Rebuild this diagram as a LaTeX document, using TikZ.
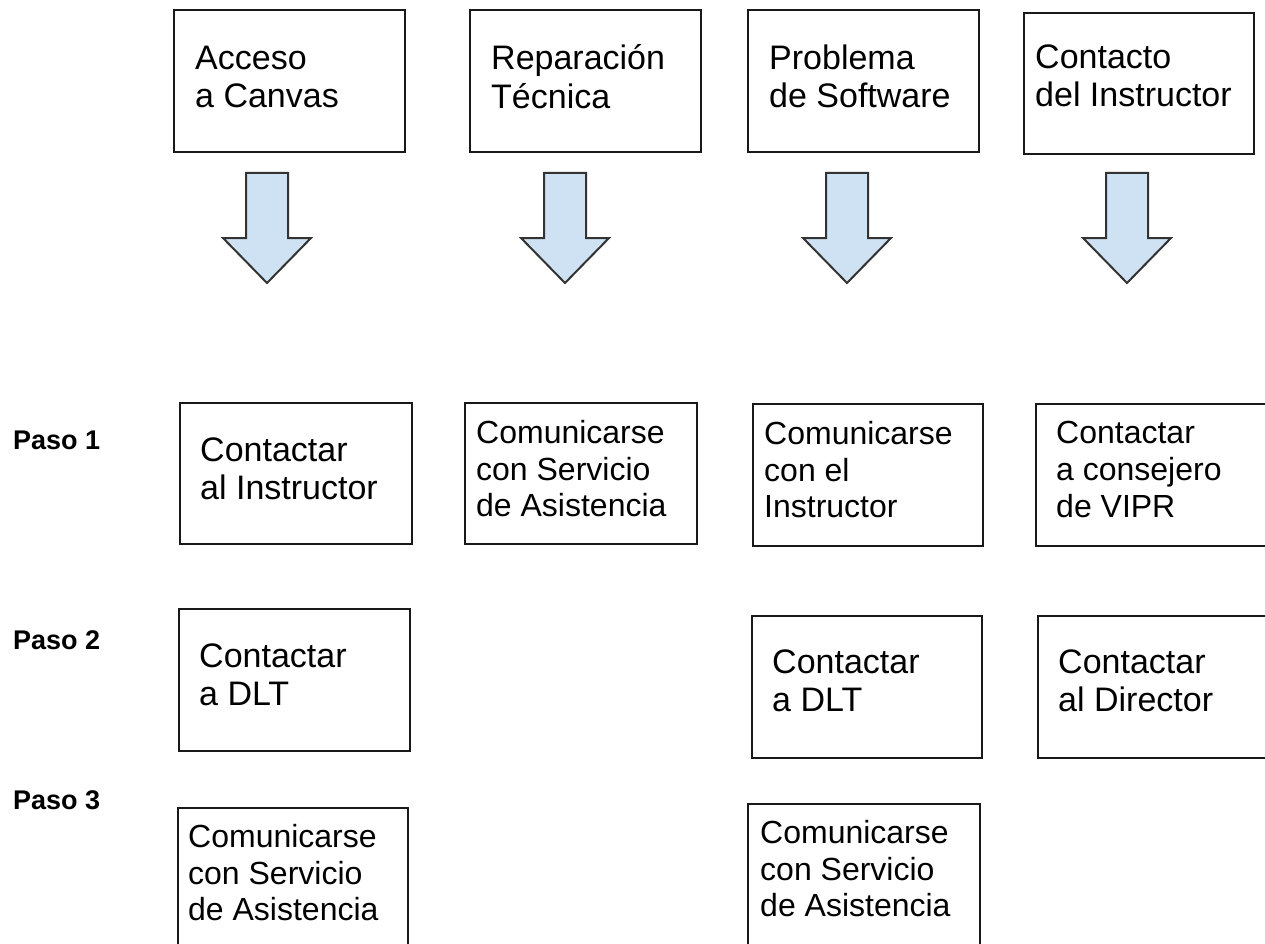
\documentclass[tikz,border=0pt]{standalone}
\usepackage{fontspec}
\setmainfont{Liberation Sans}
\begin{document}
\begin{tikzpicture}[x=1pt,y=-1pt,
  box/.style={draw=black!90, line width=2.2pt, inner sep=0pt, anchor=north west},
  txt/.style={anchor=north west, inner sep=0pt, align=left},
  bigtxt/.style={txt, font=\fontsize{34}{38.5}\selectfont},
  smalltxt/.style={txt, font=\fontsize{32}{36.8}\selectfont},
  pasotxt/.style={anchor=base west, inner sep=0pt, font=\fontsize{27}{31}\selectfont\bfseries},
  downarrow/.style={draw=black!80, line width=2pt, fill=arrowblue, line join=miter}
]
\definecolor{arrowblue}{HTML}{CFE2F3}
\useasboundingbox (0,0) rectangle (1265,944);
\fill[white] (0,0) rectangle (1265,944);

% top boxes
\node[box, minimum width=231pt, minimum height=142pt] (t1) at (173,9) {};
\node[box, minimum width=231pt, minimum height=142pt] (t2) at (469,9) {};
\node[box, minimum width=231pt, minimum height=142pt] (t3) at (747,9) {};
\node[box, minimum width=230pt, minimum height=141pt] (t4) at (1023,12) {};
\node[bigtxt] (t1t) at (195,45.5) {Acceso\\a Canvas};
\node[bigtxt] (t2t) at (491,44.5) {Reparación\\Técnica};
\node[bigtxt] (t3t) at (769,44.5) {Problema\\de Software};
\node[bigtxt] (t4t) at (1035,44.5) {Contacto\\del Instructor};

% block arrows
\foreach \cx in {267,565,847,1127}{
  \draw[downarrow] (\cx-21,173) -- (\cx+21,173) -- (\cx+21,238) -- (\cx+44,238)
    -- (\cx,283) -- (\cx-44,238) -- (\cx-21,238) -- cycle;
}

% step labels
\node[pasotxt] (p1) at (13,449) {Paso 1};
\node[pasotxt] (p2) at (13,649) {Paso 2};
\node[pasotxt] (p3) at (13,809) {Paso 3};

% step 1
\node[box, minimum width=232pt, minimum height=141pt] (a1) at (179,402) {};
\node[box, minimum width=232pt, minimum height=141pt] (b1) at (464,402) {};
\node[box, minimum width=230pt, minimum height=142pt] (c1) at (752,403) {};
\node[box, minimum width=240pt, minimum height=142pt] (d1) at (1035,403) {};
\node[bigtxt] (a1t) at (200,437.5) {Contactar\\al Instructor};
\node[smalltxt] (b1t) at (476,420) {Comunicarse\\con Servicio\\de Asistencia};
\node[smalltxt] (c1t) at (764,421) {Comunicarse\\con el\\Instructor};
\node[smalltxt] (d1t) at (1056,421) {Contactar\\a consejero\\de VIPR};

% step 2
\node[box, minimum width=231pt, minimum height=142pt] (a2) at (178,608) {};
\node[box, minimum width=230pt, minimum height=142pt] (c2) at (751,615) {};
\node[box, minimum width=240pt, minimum height=142pt] (d2) at (1037,615) {};
\node[bigtxt] (a2t) at (199,643.5) {Contactar\\a DLT};
\node[bigtxt] (c2t) at (772,649.5) {Contactar\\a DLT};
\node[bigtxt] (d2t) at (1058,649.5) {Contactar\\al Director};

% step 3
\node[box, minimum width=230pt, minimum height=160pt] (a3) at (177,807) {};
\node[box, minimum width=232pt, minimum height=160pt] (c3) at (747,803) {};
\node[smalltxt] (a3t) at (188,824) {Comunicarse\\con Servicio\\de Asistencia};
\node[smalltxt] (c3t) at (760,820) {Comunicarse\\con Servicio\\de Asistencia};
\end{tikzpicture}
\end{document}
